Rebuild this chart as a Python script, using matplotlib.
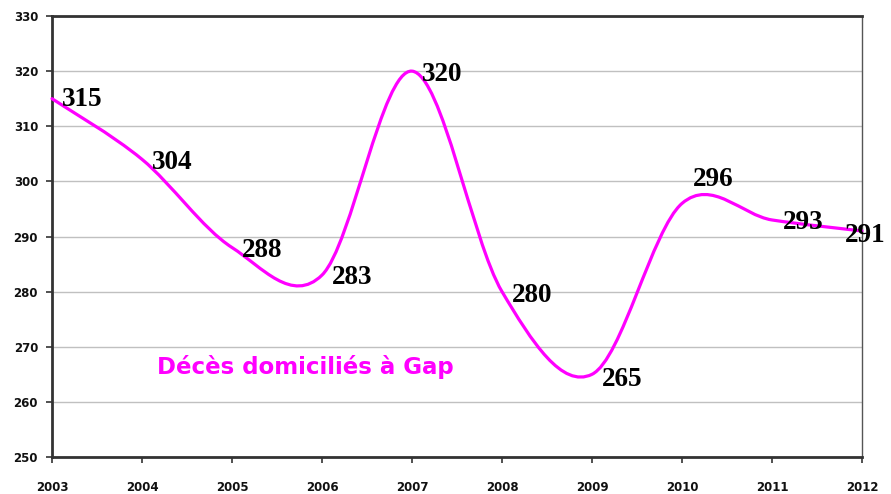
import matplotlib
matplotlib.use("Agg")
import matplotlib.pyplot as plt
import numpy as np
from matplotlib.path import Path
from matplotlib.patches import PathPatch

years = [2003, 2004, 2005, 2006, 2007, 2008, 2009, 2010, 2011, 2012]
deaths = [315, 304, 288, 283, 320, 280, 265, 296, 293, 291]
y_ticks = [250, 260, 270, 280, 290, 300, 310, 320, 330]
title = "Décès domiciliés à Gap"

# label offsets in pixels (dx, dy) relative to each point
label_dx = [10, 10, 10, 10, 10, 10, 10, 11, 11, -17]
label_dy = [-1, -3, -3, -2, -3, -4, -5, 24, -3, -5]

W, H = 891, 494
fig = plt.figure(figsize=(W / 100, H / 100), dpi=100)
L, R, T, B = 52, 862, 16, 457
ax = fig.add_axes([L / W, (H - B) / H, (R - L) / W, (B - T) / H])

ax.set_xlim(2003, 2012)
ax.set_ylim(250, 330)
ax.set_yticks(y_ticks)
ax.set_xticks(years)
ax.grid(axis="y", color="#c0c0c0", linewidth=1.0)
ax.set_axisbelow(True)

for s in ["left", "bottom", "top"]:
    ax.spines[s].set_color("#333333")
    ax.spines[s].set_linewidth(2.0)
ax.spines["right"].set_color("#555555")
ax.spines["right"].set_linewidth(1.0)
ax.tick_params(axis="both", direction="out", length=4, width=1.2, color="#333333",
               labelsize=8.5, pad=6)
ax.tick_params(axis="x", pad=13)
for lab in ax.get_xticklabels() + ax.get_yticklabels():
    lab.set_fontweight("bold")
    lab.set_color("#111111")

# smoothed line (Bezier, Excel-style)
x = np.array(years, dtype=float)
y = np.array(deaths, dtype=float)
n = len(x)
verts = [(x[0], y[0])]
codes = [Path.MOVETO]
for i in range(n - 1):
    xp, yp = (x[i - 1], y[i - 1]) if i > 0 else (x[i], y[i])
    xn2, yn2 = (x[i + 2], y[i + 2]) if i + 2 < n else (x[i + 1], y[i + 1])
    c1 = (x[i] + (x[i + 1] - xp) / 6, y[i] + (y[i + 1] - yp) / 6)
    c2 = (x[i + 1] - (xn2 - x[i]) / 6, y[i + 1] - (yn2 - y[i]) / 6)
    verts += [c1, c2, (x[i + 1], y[i + 1])]
    codes += [Path.CURVE4] * 3
patch = PathPatch(Path(verts, codes), facecolor="none", edgecolor="#ff00ff",
                  linewidth=2.3, capstyle="round", joinstyle="round", zorder=3)
patch.set_clip_on(False)
ax.add_patch(patch)

for xi, yi, v, dx, dy in zip(years, deaths, deaths, label_dx, label_dy):
    ax.annotate(str(v), (xi, yi), xytext=(dx * 0.72, dy * 0.72),
                textcoords="offset points", ha="left", va="center",
                fontsize=19.5, fontweight="bold", family="Liberation Serif",
                color="black", zorder=4, annotation_clip=False)

fig.text(157 / W, 1 - 367 / H, title, ha="left", va="center", fontsize=16.5,
         fontweight="bold", color="#ff00ff", family="DejaVu Sans")

fig.savefig("out.png", dpi=100)
